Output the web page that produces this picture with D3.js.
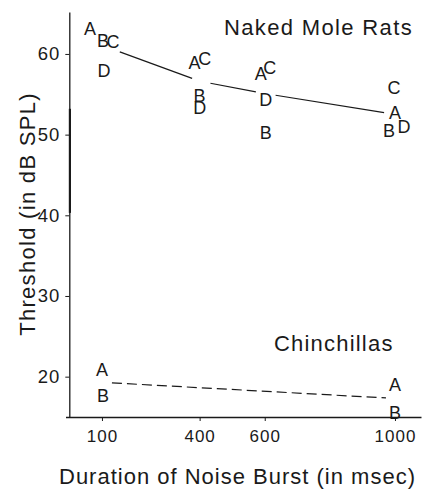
<!DOCTYPE html>
<html>
<head>
<meta charset="utf-8">
<script src="https://cdn.jsdelivr.net/npm/d3@7"></script>
<style>
  html, body { margin: 0; padding: 0; background: #fff; }
  svg { display: block; }
  text { font-family: "Liberation Sans", Arial, Helvetica, sans-serif; fill: #1a1a1a; }
</style>
</head>
<body>
<div id="chart"></div>
<script>
// ---- Data ----
const durations = [100, 400, 600, 1000];
const durationTicks = [100, 400, 600, 1000];
const thresholdTicks = [20, 30, 40, 50, 60];

const moleRatSubjects = ["A", "B", "C", "D"];
const moleRatA = [63.2, 58.9, 57.6, 52.7];
const moleRatB = [61.7, 54.8, 50.2, 50.5];
const moleRatC = [61.5, 59.4, 58.3, 55.8];
const moleRatD = [57.9, 53.4, 54.3, 51.0];

const chinchillaDurations = [100, 1000];
const chinchillaSubjects = ["A", "B"];
const chinchillaA = [20.9, 19.0];
const chinchillaB = [17.7, 15.6];

const groupLabels = ["Naked Mole Rats", "Chinchillas"];
const xTitle = "Duration of Noise Burst (in msec)";
const yTitle = "Threshold (in dB SPL)";

// ---- Layout / style ----
const W = 422, H = 491;
const ink = "#1a1a1a";
// small horizontal nudges so overlapping letters stay legible (px)
const nudge = {
  mole: {
    100: {A: -12, B: 1, C: 11, D: 2},
    400: {A: -5, B: 0, C: 5, D: 0},
    600: {A: -4, B: 1, C: 5, D: 1},
    1000: {A: 0, B: -6, C: -1, D: 9}
  },
  chin: {
    100: {A: 0, B: 1},
    1000: {A: 0, B: 0}
  }
};

const svg = d3.select("#chart").append("svg")
  .attr("width", W).attr("height", H);

const x = d3.scaleLinear().domain([-12, 1080]).range([65.5, 421]);
const y = d3.scaleLinear().domain([15, 65.2]).range([417, 12]);
const yAxisX = 69.3;

// X axis
const xAxis = svg.append("g")
  .attr("transform", `translate(0,${y(15)})`)
  .call(d3.axisBottom(x).tickValues(durationTicks).tickFormat(d3.format("d"))
    .tickSize(4).tickPadding(9).tickSizeOuter(0));
xAxis.select(".domain").attr("stroke", ink).attr("stroke-width", 1.4);
xAxis.selectAll(".tick line").attr("stroke", ink).attr("stroke-width", 1);
xAxis.selectAll(".tick text")
  .style("font-size", "17px").style("letter-spacing", "1px")
  .attr("fill", ink);

// Y axis
const yAxis = svg.append("g")
  .attr("transform", `translate(${yAxisX},0)`)
  .call(d3.axisLeft(y).tickValues(thresholdTicks).tickFormat(d3.format("d"))
    .tickSize(4).tickPadding(5).tickSizeOuter(0));
yAxis.select(".domain").attr("stroke", ink).attr("stroke-width", 1.3);
yAxis.selectAll(".tick line").attr("stroke", ink).attr("stroke-width", 1);
yAxis.selectAll(".tick text")
  .style("font-size", "18.5px").style("letter-spacing", "1px")
  .attr("fill", ink);
// heavier stretch of the axis rule as in the original print
svg.append("line")
  .attr("x1", yAxisX + 0.6).attr("x2", yAxisX + 0.6)
  .attr("y1", y(53.2)).attr("y2", y(40.3))
  .attr("stroke", ink).attr("stroke-width", 2.2);

// Mean lines
function trimmedSegments(xs, means, gaps) {
  const segs = [];
  for (let i = 0; i < xs.length - 1; i++) {
    const x1 = x(xs[i]), y1 = y(means[i]);
    const x2 = x(xs[i + 1]), y2 = y(means[i + 1]);
    const dx = x2 - x1, dy = y2 - y1, len = Math.hypot(dx, dy);
    const g1 = gaps[i][0], g2 = gaps[i][1];
    segs.push([[x1 + dx * g1 / len, y1 + dy * g1 / len],
               [x2 - dx * g2 / len, y2 - dy * g2 / len]]);
  }
  return segs;
}
const moleSeries = [moleRatA, moleRatB, moleRatC, moleRatD];
const moleMeans = durations.map((d, i) => d3.mean(moleSeries, s => s[i]));
const chinSeries = [chinchillaA, chinchillaB];
const chinMeans = chinchillaDurations.map((d, i) => d3.mean(chinSeries, s => s[i]));

const line = d3.line();
trimmedSegments(durations, moleMeans, [[19, 8], [11, 9], [11, 11]]).forEach(s => {
  svg.append("path").attr("d", line(s)).attr("fill", "none")
    .attr("stroke", ink).attr("stroke-width", 1.2);
});
trimmedSegments(chinchillaDurations, chinMeans, [[10, 9]]).forEach(s => {
  svg.append("path").attr("d", line(s)).attr("fill", "none")
    .attr("stroke", ink).attr("stroke-width", 1.2)
    .attr("stroke-dasharray", "10,5");
});

// Letters
function drawLetters(xs, subjects, series, key) {
  const pts = [];
  subjects.forEach((s, k) => xs.forEach((d, i) => pts.push({s, d, v: series[k][i]})));
  svg.append("g").selectAll("text").data(pts).join("text")
    .attr("x", p => x(p.d) + nudge[key][p.d][p.s])
    .attr("y", p => y(p.v))
    .attr("dy", "0.36em")
    .attr("text-anchor", "middle")
    .style("font-size", "18px")
    .attr("fill", ink)
    .text(p => p.s);
}
drawLetters(durations, moleRatSubjects, moleSeries, "mole");
drawLetters(chinchillaDurations, chinchillaSubjects, chinSeries, "chin");

// Group labels
svg.append("text").attr("x", 224).attr("y", 35)
  .style("font-size", "22px").style("letter-spacing", "1.35px")
  .text(groupLabels[0]);
svg.append("text").attr("x", 274).attr("y", 351)
  .style("font-size", "22px").style("letter-spacing", "1.2px")
  .text(groupLabels[1]);

// Axis titles
svg.append("text").attr("x", 59).attr("y", 484)
  .style("font-size", "22px").style("letter-spacing", "1px")
  .text(xTitle);
svg.append("text")
  .attr("transform", "translate(35,214) rotate(-90)")
  .attr("text-anchor", "middle")
  .style("font-size", "22px").style("letter-spacing", "1.3px")
  .text(yTitle);
</script>
</body>
</html>
